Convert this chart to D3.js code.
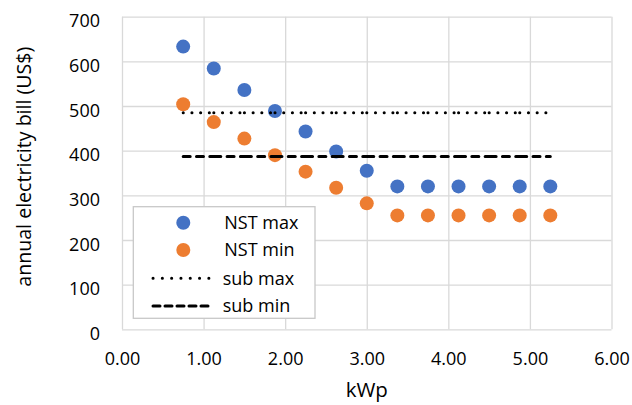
<!DOCTYPE html>
<html>
<head>
<meta charset="utf-8">
<script src="https://cdn.jsdelivr.net/npm/d3@7"></script>
<style>
body { margin: 0; background: #fff; }
text { font-family: "Open Sans", sans-serif; fill: #000; }
</style>
</head>
<body>
<svg id="chart" width="632" height="405"></svg>
<script>
var kwp = [0.75, 1.125, 1.5, 1.875, 2.25, 2.625, 3.0, 3.375, 3.75, 4.125, 4.5, 4.875, 5.25];
var nst_max = [633, 584, 536, 489, 443, 398, 355, 320, 320, 320, 320, 320, 320];
var nst_min = [504, 464, 427, 390, 353, 317, 282, 255, 255, 255, 255, 255, 255];
var sub_max = [485, 485, 485, 485, 485, 485, 485, 485, 485, 485, 485, 485, 485];
var sub_min = [387, 387, 387, 387, 387, 387, 387, 387, 387, 387, 387, 387, 387];

var x_ticks = [0, 1, 2, 3, 4, 5, 6];
var y_ticks = [0, 100, 200, 300, 400, 500, 600, 700];
var legend_labels = ['NST max', 'NST min', 'sub max', 'sub min'];

var plot_left = 122, plot_right = 611.5, plot_top = 16.7, plot_bottom = 329.3;

var svg = d3.select('#chart');

var x = d3.scaleLinear().domain([0, 6]).range([plot_left, plot_right]);
var y = d3.scaleLinear().domain([0, 700]).range([plot_bottom, plot_top]);

// gridlines + tick labels
var xAxis = svg.append('g')
    .attr('transform', 'translate(0,' + plot_bottom + ')')
    .call(d3.axisBottom(x).tickValues(x_ticks).tickSize(-(plot_bottom - plot_top)).tickFormat(d3.format('.2f')));
xAxis.select('.domain').remove();
xAxis.selectAll('line').attr('stroke', '#d9d9d9').attr('stroke-width', 1.3);
xAxis.selectAll('text')
    .attr('y', 35.7).attr('dy', 0)
    .style('font-size', '18px').style('font-family', '"Open Sans", sans-serif').attr('fill', '#000');

var yAxis = svg.append('g')
    .attr('transform', 'translate(' + plot_left + ',0)')
    .call(d3.axisLeft(y).tickValues(y_ticks).tickSize(-(plot_right - plot_left)));
yAxis.select('.domain').remove();
yAxis.selectAll('line').attr('stroke', '#d9d9d9').attr('stroke-width', 1.3);
yAxis.selectAll('text')
    .attr('x', -22).attr('dy', '0.56em')
    .style('font-size', '18px').style('font-family', '"Open Sans", sans-serif').attr('fill', '#000');

// markers
function dots(data, colour) {
    svg.append('g').selectAll('circle')
        .data(data)
        .enter()
        .append('circle')
        .attr('cx', function(d, i) { return x(kwp[i]); })
        .attr('cy', function(d) { return y(d); })
        .attr('r', 7)
        .attr('fill', colour);
}
dots(nst_max, '#4472c4');
dots(nst_min, '#ed7d31');

// line series, dash pattern restarts on each segment like excel does
function segments(data, dash) {
    var pts = data.map(function(d, i) { return [kwp[i], d]; });
    svg.append('g').selectAll('line')
        .data(d3.pairs(pts))
        .enter()
        .append('line')
        .attr('x1', function(d) { return x(d[0][0]); })
        .attr('y1', function(d) { return y(d[0][1]); })
        .attr('x2', function(d) { return x(d[1][0]); })
        .attr('y2', function(d) { return y(d[1][1]); })
        .attr('stroke', '#000')
        .attr('stroke-width', 3)
        .attr('stroke-linecap', 'round')
        .attr('stroke-dasharray', dash);
}
var dotted = '0.1 8.6';
var dashed = '7 6.3';
segments(sub_max, dotted);
segments(sub_min, dashed);

// axis titles
svg.append('text')
    .attr('x', (plot_left + plot_right) / 2)
    .attr('y', 396.7)
    .attr('text-anchor', 'middle')
    .style('font-size', '20.5px')
    .text('kWp');

svg.append('text')
    .attr('transform', 'translate(30.5,166.7) rotate(-90)')
    .attr('text-anchor', 'middle')
    .style('font-size', '19.6px')
    .text('annual electricity bill (US$)');

// legend
var legend = svg.append('g');
legend.append('rect')
    .attr('x', 133.3).attr('y', 206.7)
    .attr('width', 181.7).attr('height', 111.6)
    .attr('fill', '#fff')
    .attr('stroke', '#c8c8c8')
    .attr('stroke-width', 1.3);

var rows = [222.7, 250, 278.3, 306];
legend.append('circle').attr('cx', 183.3).attr('cy', rows[0]).attr('r', 7).attr('fill', '#4472c4');
legend.append('circle').attr('cx', 183.3).attr('cy', rows[1]).attr('r', 7).attr('fill', '#ed7d31');
legend.append('line')
    .attr('x1', 153).attr('x2', 209).attr('y1', rows[2]).attr('y2', rows[2])
    .attr('stroke', '#000').attr('stroke-width', 3)
    .attr('stroke-linecap', 'round').attr('stroke-dasharray', '0.1 9.2');
legend.append('line')
    .attr('x1', 153).attr('x2', 211).attr('y1', rows[3]).attr('y2', rows[3])
    .attr('stroke', '#000').attr('stroke-width', 3)
    .attr('stroke-linecap', 'round').attr('stroke-dasharray', '7 5');

legend.selectAll('text.lbl')
    .data(legend_labels)
    .enter()
    .append('text')
    .attr('class', 'lbl')
    .attr('x', function(d, i) { return i < 2 ? 224.3 : 222.7; })
    .attr('y', function(d, i) { return rows[i]; })
    .attr('dy', '0.36em')
    .style('font-size', '18px')
    .text(function(d) { return d; });
</script>
</body>
</html>
